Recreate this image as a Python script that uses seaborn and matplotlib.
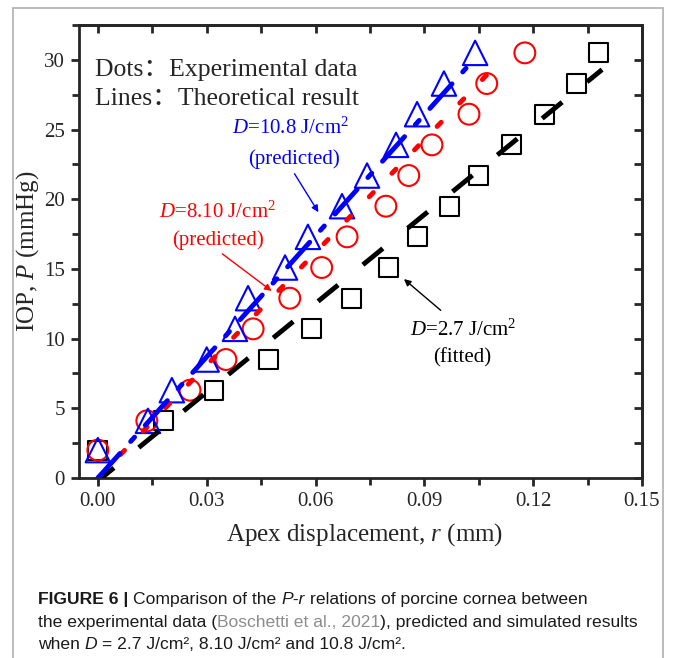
import matplotlib
matplotlib.use("Agg")
import matplotlib.pyplot as plt
from matplotlib.patches import Rectangle
from matplotlib.transforms import IdentityTransform
from matplotlib.ticker import MultipleLocator, FormatStrFormatter
import seaborn as sns

# experimental points: the same pressure steps were used for all three corneas
iop = [2.0, 4.1, 6.3, 8.5, 10.7, 12.9, 15.1, 17.3, 19.5, 21.7, 23.9, 26.1, 28.3, 30.5]
r_d27 = [0.000, 0.018, 0.032, 0.047, 0.059, 0.070, 0.080, 0.088, 0.097, 0.105, 0.114, 0.123, 0.132, 0.138]
r_d81 = [0.000, 0.0135, 0.0254, 0.0353, 0.0428, 0.0529, 0.0617, 0.0687, 0.0794, 0.0857, 0.0921, 0.1023, 0.1072, 0.1177]
r_d108 = [0.000, 0.0138, 0.0204, 0.0300, 0.0378, 0.0414, 0.0516, 0.0579, 0.0673, 0.0742, 0.0822, 0.0880, 0.0954, 0.1040]

# theoretical P-r lines (end points)
r_th27 = [0.001, 0.139]
p_th27 = [0.0, 29.3]
r_th81 = [0.000, 0.1105]
p_th81 = [0.0, 29.8]
r_th108 = [0.000, 0.1015]
p_th108 = [0.0, 29.4]

x_ticks = [0.00, 0.03, 0.06, 0.09, 0.12, 0.15]
y_ticks = [0, 5, 10, 15, 20, 25, 30]

sns.set_style("ticks")
plt.rcParams["font.family"] = ["Liberation Serif", "Noto Sans CJK SC"]
plt.rcParams["mathtext.fontset"] = "custom"
plt.rcParams["mathtext.rm"] = "Liberation Serif"
plt.rcParams["mathtext.it"] = "Liberation Serif:italic"
plt.rcParams["axes.linewidth"] = 2

fig = plt.figure(figsize=(6.73, 6.58), dpi=100)
ax = fig.add_axes([79 / 673, 1 - 478 / 658, 563 / 673, 453 / 658])

# dots: experimental data
sns.scatterplot(x=r_d27, y=iop, marker="s", s=185, facecolors="none",
                edgecolor="black", linewidth=1.5, ax=ax, zorder=3)
sns.scatterplot(x=r_d81, y=iop, marker="o", s=225, facecolors="none",
                edgecolor="#ff0000", linewidth=1.5, ax=ax, zorder=3)
sns.scatterplot(x=r_d108, y=iop, marker="^", s=310, facecolors="none",
                edgecolor="#0000ff", linewidth=1.5, ax=ax, zorder=3)

# lines: theoretical results
sns.lineplot(x=r_th27, y=p_th27, color="black", linewidth=3.5,
             linestyle=(2, (5.3, 6.6)), dash_capstyle="butt", ax=ax, zorder=4)
sns.lineplot(x=r_th81, y=p_th81, color="#ff0000", linewidth=3.5,
             linestyle=(0, (1.2, 5.5)), dash_capstyle="round", ax=ax, zorder=4)
sns.lineplot(x=r_th108, y=p_th108, color="#0000ff", linewidth=3.5,
             linestyle=(0, (6.8, 3.3, 1.2, 3.3)), dash_capstyle="round", ax=ax, zorder=4)

ax.set_xlim(-0.0052, 0.15)
ax.set_ylim(0, 32.5)
ax.set_xticks(x_ticks)
ax.set_yticks(y_ticks)
ax.xaxis.set_minor_locator(MultipleLocator(0.015))
ax.yaxis.set_minor_locator(MultipleLocator(2.5))
ax.xaxis.set_major_formatter(FormatStrFormatter("%.2f"))
ax.tick_params(which="both", direction="out", width=2, labelsize=15, pad=4)
ax.tick_params(which="major", length=6)
ax.tick_params(which="minor", length=5)

# mirrored inward ticks on top and right
top = ax.secondary_xaxis("top")
top.set_xticks(x_ticks)
top.xaxis.set_minor_locator(MultipleLocator(0.015))
top.tick_params(which="both", direction="in", width=2, length=6, labeltop=False)
right = ax.secondary_yaxis("right")
right.set_yticks(y_ticks)
right.yaxis.set_minor_locator(MultipleLocator(2.5))
right.tick_params(which="both", direction="in", width=2, length=6, labelright=False)

ax.set_xlabel("Apex displacement, $r$ (mm)", fontsize=18)
ax.set_ylabel("IOP, $P$ (mmHg)", fontsize=18)
ax.xaxis.set_label_coords(0.508, -0.095)
ax.yaxis.set_label_coords(-0.067, 0.5)

ax.text(-0.0008, 29.3, "Dots：Experimental data", fontsize=18.5, va="center")
ax.text(-0.0008, 27.2, "Lines：Theoretical result", fontsize=18.5, va="center")

ax.text(0.0532, 25.1, "$D$=10.8 J/cm$^2$", color="#0000ff", fontsize=15, ha="center", va="center")
ax.text(0.0540, 22.9, "(predicted)", color="#0000ff", fontsize=15, ha="center", va="center")
ax.annotate("", xy=(0.0612, 18.9), xytext=(0.0538, 22.0),
            arrowprops=dict(arrowstyle="-|>", color="#0000ff", lw=1, mutation_scale=10))

ax.text(0.0330, 19.1, "$D$=8.10 J/cm$^2$", color="#ff0000", fontsize=15, ha="center", va="center")
ax.text(0.0330, 17.1, "(predicted)", color="#ff0000", fontsize=15, ha="center", va="center")
ax.annotate("", xy=(0.0485, 13.3), xytext=(0.0337, 16.2),
            arrowprops=dict(arrowstyle="-|>", color="#ff0000", lw=1, mutation_scale=10))

ax.text(0.1006, 10.6, "$D$=2.7 J/cm$^2$", color="black", fontsize=15, ha="center", va="center")
ax.text(0.1004, 8.6, "(fitted)", color="black", fontsize=15, ha="center", va="center")
ax.annotate("", xy=(0.0838, 14.4), xytext=(0.0951, 11.9),
            arrowprops=dict(arrowstyle="-|>", color="black", lw=1, mutation_scale=10))

# grey frame of the figure panel
fig.add_artist(Rectangle((13, -20), 650, 658 - 8 + 20, transform=IdentityTransform(),
                         fill=False, edgecolor="#b5b5b5", linewidth=1.3))

# caption, written piece by piece so fonts and colours can change inside a line
renderer = fig.canvas.get_renderer()
cap_font = ["Liberation Sans"]
cap_size = 12.6
ink = "#1a1a1a"


def text_w(s):
    t = fig.text(0, 0, s, fontsize=cap_size, family=cap_font)
    w = t.get_window_extent(renderer).width
    t.remove()
    return w


space = text_w("a a") - text_w("aa")


def caption_line(x, y, pieces):
    for s, kw in pieces:
        x += (len(s) - len(s.lstrip(" "))) * space
        t = fig.text(x, y, s.strip(" "), transform=IdentityTransform(), va="baseline",
                     fontsize=cap_size, family=cap_font, color=kw.pop("color", ink), **kw)
        x = t.get_window_extent(renderer).x1 + (len(s) - len(s.rstrip(" "))) * space


caption_line(38, 658 - 604, [("FIGURE 6 | ", {"weight": "bold"}),
                             ("Comparison of the ", {}),
                             ("P-r", {"style": "italic"}),
                             (" relations of porcine cornea between", {})])
caption_line(38, 658 - 627, [("the experimental data (", {}),
                             ("Boschetti et al., 2021", {"color": "#8c8c8c"}),
                             ("), predicted and simulated results", {})])
caption_line(38, 658 - 649, [("when ", {}),
                             ("D", {"style": "italic"}),
                             (" = 2.7 J/cm², 8.10 J/cm² and 10.8 J/cm².", {})])

fig.savefig("out.png", dpi=100)
